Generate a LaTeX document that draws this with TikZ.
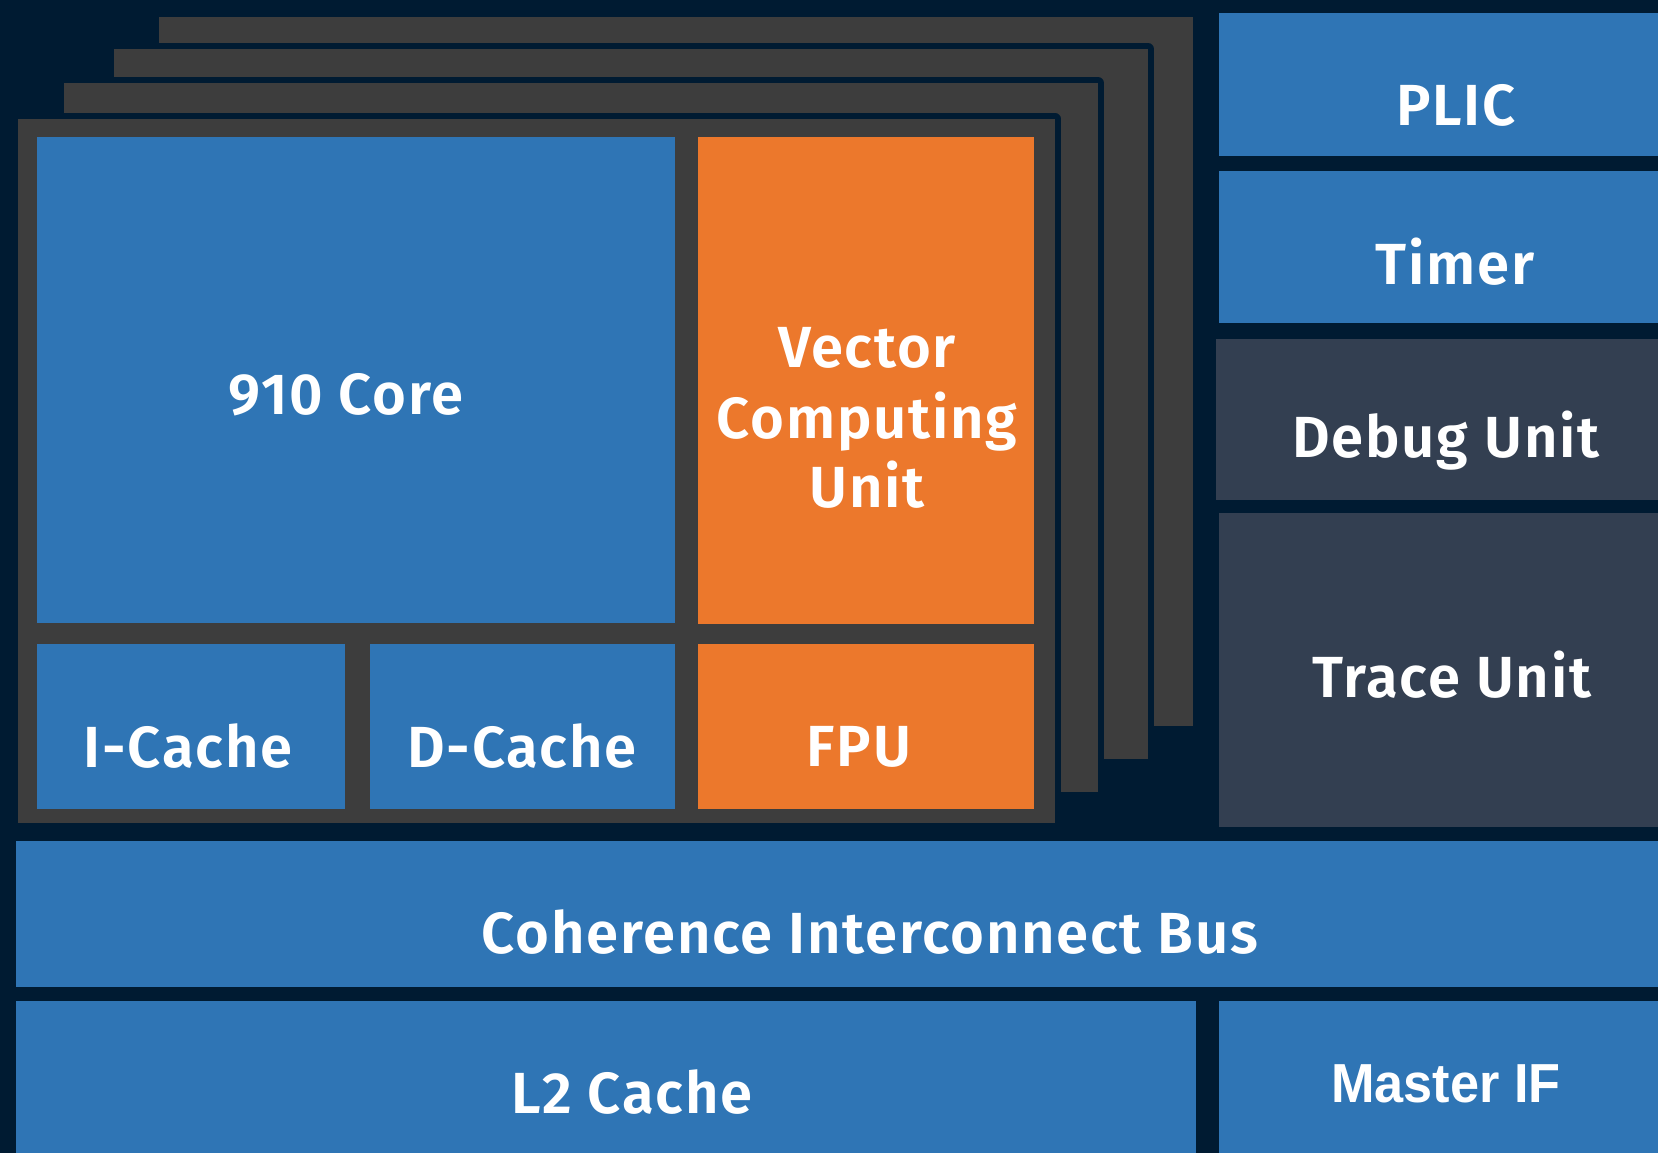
\documentclass[tikz,border=0pt]{standalone}
\usepackage{fontspec}
\setmainfont{Fira Sans}
\newfontfamily\lblfont{Fira Sans SemiBold}[LetterSpace=3]
\newfontfamily\arialfont{Liberation Sans}
\definecolor{bgnavy}{RGB}{0,27,50}
\definecolor{blk}{RGB}{47,117,181}
\definecolor{orng}{RGB}{236,120,44}
\definecolor{gry}{RGB}{61,61,61}
\definecolor{slate}{RGB}{51,63,81}
\begin{document}
\begin{tikzpicture}[x=1pt,y=-1pt,
  box/.style={draw=none,inner sep=0pt,outer sep=0pt},
  lbl/.style={text=white,inner sep=0pt,anchor=base,font=\fontsize{58}{70}\selectfont\lblfont},
  halo/.style={draw=bgnavy,line width=12pt,line join=round}]
\fill[bgnavy] (0,0) rectangle (1658,1153);
\useasboundingbox (0,0) rectangle (1658,1153);
% stacked core layers
\fill[gry] (159,17) rectangle (1193,726);
\draw[halo] (114,49) rectangle (1148,759);
\fill[gry] (114,49) rectangle (1148,759);
\draw[halo] (64,83) rectangle (1098,792);
\fill[gry] (64,83) rectangle (1098,792);
\draw[halo,line width=11pt] (18,119) rectangle (1055,823);
\fill[gry] (18,119) rectangle (1055,823);
% inner blocks
\node[box,fill=blk,minimum width=638pt,minimum height=486pt] (core) at (356,380) {};
\node[box,fill=orng,minimum width=336pt,minimum height=487pt] (vcu) at (866,380.5) {};
\node[box,fill=blk,minimum width=308pt,minimum height=165pt] (icache) at (191,726.5) {};
\node[box,fill=blk,minimum width=305pt,minimum height=165pt] (dcache) at (522.5,726.5) {};
\node[box,fill=orng,minimum width=336pt,minimum height=165pt] (fpu) at (866,726.5) {};
% right column
\node[box,fill=blk,minimum width=439pt,minimum height=143pt] (plic) at (1438.5,84.5) {};
\node[box,fill=blk,minimum width=439pt,minimum height=152pt] (timer) at (1438.5,247) {};
\node[box,fill=slate,minimum width=442pt,minimum height=161pt] (debug) at (1437,419.5) {};
\node[box,fill=slate,minimum width=439pt,minimum height=314pt] (trace) at (1438.5,670) {};
% bottom
\node[box,fill=blk,minimum width=1642pt,minimum height=146pt] (bus) at (837,914) {};
\node[box,fill=blk,minimum width=1180pt,minimum height=152pt] (l2) at (606,1077) {};
\node[box,fill=blk,minimum width=439pt,minimum height=152pt] (mif) at (1438.5,1077) {};
% labels
\node[lbl] (tcore) at (346,414) {910 Core};
\node[lbl] (tv1) at (867,367) {Vector};
\node[lbl] (tv2) at (867,438) {Computing};
\node[lbl] (tv3) at (867,507) {Unit};
\node[lbl] (tic) at (188,767) {I-Cache};
\node[lbl] (tdc) at (522,767) {D-Cache};
\node[lbl] (tfpu) at (859,766) {FPU};
\node[lbl] (tplic) at (1456,126) {PLIC};
\node[lbl] (ttimer) at (1455,284) {Timer};
\node[lbl] (tdebug) at (1446,457) {Debug Unit};
\node[lbl] (ttrace) at (1452,697) {Trace Unit};
\node[lbl] (tbus) at (870,953) {Coherence Interconnect Bus};
\node[lbl] (tl2) at (632,1113) {L2 Cache};
\node[lbl,font=\fontsize{55}{64}\selectfont\arialfont\bfseries] (tmif) at (1446,1102) {\scalebox{0.95}[1]{Master IF}};
\end{tikzpicture}
\end{document}
